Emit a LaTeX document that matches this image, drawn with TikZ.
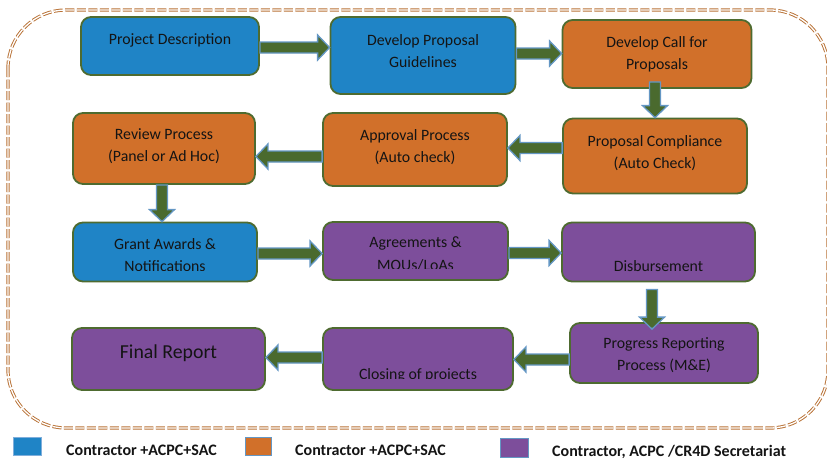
\documentclass[tikz,border=0pt]{standalone}
\usepackage{fontspec}
\setmainfont{Carlito}
\usetikzlibrary{calc}
\definecolor{cblue}{HTML}{1F84C6}
\definecolor{corange}{HTML}{D1702A}
\definecolor{cpurple}{HTML}{7D4E9B}
\definecolor{bedge}{HTML}{4E6B30}
\definecolor{agreen}{HTML}{4A6A2E}
\definecolor{aedge}{HTML}{6497C4}
\definecolor{brn}{HTML}{B87236}
\definecolor{txtc}{HTML}{141414}
\definecolor{lblue}{HTML}{7FAEDB}
\tikzset{
  box/.style={draw=bedge, line width=1.8pt, rounded corners=10pt, inner sep=0pt},
  txt/.style={text=txtc, font=\fontsize{15.8}{22.5}\selectfont, inner sep=0pt, align=center},
  bigtxt/.style={text=txtc, font=\fontsize{19.8}{24}\selectfont, inner sep=0pt},
  legtxt/.style={text=txtc, font=\fontsize{16}{18}\selectfont\bfseries, inner sep=0pt, anchor=base west},
  legsq/.style={draw=aedge, line width=1pt, inner sep=0pt},
  barrowstyle/.style={fill=agreen, draw=aedge, line width=1.3pt, line join=miter},
  frame/.style={draw=brn, double=white, double distance=1.3pt, line width=0.95pt,
    dash pattern=on 9pt off 2.5pt, rounded corners=58pt}
}
\newcommand\barrow[2]{%
  \path (#1) coordinate (ba s);
  \path (#2) coordinate (ba t);
  \path ($(ba t)!12pt!(ba s)$) coordinate (ba b);
  \draw[barrowstyle] ($(ba s)!5.5pt!90:(ba t)$) -- ($(ba b)!5.5pt!90:(ba t)$)
    -- ($(ba b)!12.5pt!90:(ba t)$) -- (ba t) -- ($(ba b)!12.5pt!-90:(ba t)$)
    -- ($(ba b)!5.5pt!-90:(ba t)$) -- ($(ba s)!5.5pt!-90:(ba t)$) -- cycle;
}
\begin{document}
\begin{tikzpicture}[x=1pt, y=-1pt]
\useasboundingbox (0,0) rectangle (827,459);
% frame
\draw[frame] (8,10) rectangle (828,428);
% boxes
\node[box, fill=cblue,   minimum width=178pt, minimum height=58pt] (pd)   at (170,46) {};
\node[box, fill=cblue,   minimum width=185pt, minimum height=77pt] (dpg)  at (423,55.5) {};
\node[box, fill=corange, minimum width=189pt, minimum height=68pt] (dcp)  at (657,54) {};
\node[box, fill=corange, minimum width=182pt, minimum height=71pt] (rp)   at (164,148.5) {};
\node[box, fill=corange, minimum width=184pt, minimum height=73pt] (ap)   at (415,149.5) {};
\node[box, fill=corange, minimum width=184pt, minimum height=75pt] (pc)   at (655,156) {};
\node[box, fill=cblue,   minimum width=184pt, minimum height=59pt] (ga)   at (165,252) {};
\node[box, fill=cpurple, minimum width=185pt, minimum height=58pt] (agr)  at (415.5,251) {};
\node[box, fill=cpurple, minimum width=193pt, minimum height=59pt] (disb) at (658.5,252) {};
\node[box, fill=cpurple, minimum width=193pt, minimum height=62pt] (fr)   at (168.5,359) {};
\node[box, fill=cpurple, minimum width=190pt, minimum height=62pt] (cl)   at (418,359) {};
\node[box, fill=cpurple, minimum width=188pt, minimum height=60pt] (prp)  at (664,353) {};
% texts (multi-line nodes: base = last line's baseline)
\node[txt, anchor=base] (pd-t)  at (170,44) {Project Description};
\node[txt, anchor=base] (dpg-t) at (423,67.5) {Develop Proposal\\Guidelines};
\node[txt, anchor=base] (dcp-t) at (657,69.5) {Develop Call for\\Proposals};
\node[txt, anchor=base] (rp-t)  at (164,161.5) {Review Process\\(Panel or Ad Hoc)};
\node[txt, anchor=base] (ap-t)  at (415,162.5) {Approval Process\\(Auto check)};
\node[txt, anchor=base] (pc-t)  at (655,168.5) {Proposal Compliance\\(Auto Check)};
\begin{scope}
  \clip (ga.north west) rectangle (ga.east |- 0,270.5);
  \node[txt, anchor=base] (ga-t) at (165,271.5) {Grant Awards \&\\Notifications};
\end{scope}
\begin{scope}
  \clip (agr.north west) rectangle (agr.east |- 0,268.5);
  \node[txt, anchor=base] (agr-t) at (415.5,270) {Agreements \&\\MOUs/LoAs};
\end{scope}
\node[txt, anchor=base] (disb-t) at (658.5,271) {Disbursement};
\node[bigtxt, anchor=base] (fr-t) at (168.5,358) {Final Report};
\begin{scope}
  \clip (cl.north west) rectangle (cl.east |- 0,378.5);
  \node[txt, anchor=base] (cl-t) at (418,379.5) {Closing of projects};
\end{scope}
\node[txt, anchor=base] (prp-t) at (664,370.5) {Progress Reporting\\Process (M\&E)};
% arrows
\barrow{pd.east |- 0,47.5}{dpg.west |- 0,47.5}
\barrow{dpg.east |- 0,53.5}{dcp.west |- 0,53.5}
\barrow{$(dcp.south -| 655,0)+(0,-7)$}{pc.north -| 655,0}
\barrow{pc.west |- 0,148}{ap.east |- 0,148}
\barrow{ap.west |- 0,156.5}{rp.east |- 0,156.5}
\barrow{rp.south -| 162,0}{ga.north -| 162,0}
\barrow{ga.east |- 0,253.5}{agr.west |- 0,253.5}
\barrow{agr.east |- 0,253}{disb.west |- 0,253}
\barrow{$(disb.south -| 652,0)+(0,7)$}{$(prp.north -| 652,0)+(0,7)$}
\barrow{prp.west |- 0,359.5}{cl.east |- 0,359.5}
\barrow{cl.west |- 0,357.5}{fr.east |- 0,357.5}
% legend
\node[legsq, fill=cblue, draw=lblue, minimum width=28pt, minimum height=18pt] (l1) at (27,446) {};
\node[legsq, fill=corange, minimum width=26pt, minimum height=18pt] (l2) at (258,446) {};
\node[legsq, fill=cpurple, minimum width=28pt, minimum height=19pt] (l3) at (514,448) {};
\node[legtxt] (l1-t) at (66,455) {Contractor +ACPC+SAC};
\node[legtxt] (l2-t) at (295,455) {Contractor +ACPC+SAC};
\node[legtxt] (l3-t) at (552,456) {Contractor, ACPC /CR4D Secretariat};
\end{tikzpicture}
\end{document}
